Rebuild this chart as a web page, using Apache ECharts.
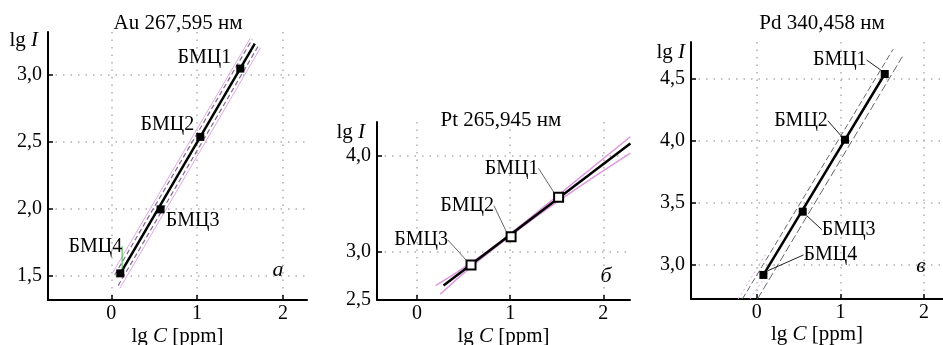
<!DOCTYPE html>
<html><head><meta charset="utf-8">
<script src="https://cdn.jsdelivr.net/npm/echarts@6/dist/echarts.min.js"></script>
<style>html,body{margin:0;padding:0;background:#fff}#c{width:943px;height:345px}</style>
</head><body><div id="c"></div>
<script>
// ---------- Panel а: Au 267,595 нм ----------
const auTitle = 'Au 267,595 нм';
const auNames = ['БМЦ4', 'БМЦ3', 'БМЦ2', 'БМЦ1'];
const auLgC = [0.105, 0.574, 1.037, 1.503];
const auLgI = [1.521, 1.997, 2.536, 3.044];
const auFitC = [0.105, 1.672];
const auFitI = [1.52, 3.23];
const auDashHiC = [0.04, 1.64], auDashHiI = [1.51, 3.26];
const auDashLoC = [0.08, 1.72], auDashLoI = [1.43, 3.22];
const auPinkHiC = [0.02, 1.62], auPinkHiI = [1.53, 3.27];
const auPinkLoC = [0.10, 1.74], auPinkLoI = [1.41, 3.20];
const auXTicks = [0, 1, 2];
const auYTicks = [1.5, 2.0, 2.5, 3.0];

// ---------- Panel б: Pt 265,945 нм ----------
const ptTitle = 'Pt 265,945 нм';
const ptNames = ['БМЦ3', 'БМЦ2', 'БМЦ1'];
const ptLgC = [0.58, 1.01, 1.52];
const ptLgI = [2.865, 3.16, 3.57];
const ptFitC = [0.285, 2.29];
const ptFitI = [2.65, 4.13];
const ptBandHiC = [0.2, 0.6, 1.0, 1.5, 2.29], ptBandHiI = [2.65, 2.90, 3.19, 3.58, 4.20];
const ptBandLoC = [0.25, 0.6, 1.0, 1.5, 2.29], ptBandLoI = [2.56, 2.86, 3.165, 3.52, 4.03];
const ptXTicks = [0, 1, 2];
const ptYTicks = [2.5, 3.0, 4.0];

// ---------- Panel в: Pd 340,458 нм ----------
const pdTitle = 'Pd 340,458 нм';
const pdNames = ['БМЦ4', 'БМЦ3', 'БМЦ2', 'БМЦ1'];
const pdLgC = [0.08, 0.55, 1.055, 1.53];
const pdLgI = [2.92, 3.43, 4.01, 4.54];
const pdFitC = [0.08, 1.53];
const pdFitI = [2.92, 4.54];
const pdDashHiC = [-0.17, 1.63], pdDashHiI = [2.727, 4.74];
const pdDashLoC = [0.01, 1.74], pdDashLoI = [2.727, 4.68];
const pdPinkHiC = [-0.22, 0.12], pdPinkHiI = [2.727, 3.10];
const pdPinkLoC = [-0.08, 0.20], pdPinkLoI = [2.727, 3.00];
const pdXTicks = [0, 1, 2];
const pdYTicks = [3.0, 3.5, 4.0, 4.5];

// ---------- layout / style (not data) ----------
const SERIF = '"Liberation Serif", "Times New Roman", serif';
const INK = '#000';
const fmtY = v => (Math.round(v * 10) / 10).toFixed(1).replace('.', ',');
const richName = {
  n: { fontFamily: SERIF, fontSize: 21, color: INK },
  i: { fontFamily: SERIF, fontSize: 21, color: INK, fontStyle: 'italic' }
};
const auLabelOff = [[-25, -27], [32, 11], [-33, -12], [-36, -11]];
const auCallout = [true, false, false, false];
const ptLabelOff = [[-50, -25], [-44, -31], [-47, -29]];
const ptCallout = [true, true, true];
const pdLabelOff = [[67, -20], [46, 18], [-44, -19], [-45, -14]];
const pdCallout = [true, true, true, true];

function xAxisCfg(gi, min, max, ticks, nameGap) {
  return {
    type: 'value', gridIndex: gi, min: min, max: max,
    name: '{n|lg }{i|C}{n| [ppm]}', nameLocation: 'middle', nameGap: nameGap, nameMoveOverlap: false,
    nameTextStyle: { rich: richName, verticalAlign: 'top' },
    axisLine: { onZero: false, lineStyle: { color: INK, width: 2 } },
    axisTick: { show: true, inside: true, length: 5, customValues: ticks, lineStyle: { color: INK, width: 1.5 } },
    axisLabel: { customValues: ticks, margin: 4, fontFamily: SERIF, fontSize: 20, color: INK, formatter: v => String(v) },
    splitLine: { show: true, lineStyle: { color: '#b0b0b0', width: 1.5, type: [1.5, 6] } }
  };
}
function yAxisCfg(gi, min, max, ticks, nameGap, padR) {
  return {
    type: 'value', gridIndex: gi, min: min, max: max,
    name: '{n|lg }{i|I}', nameLocation: 'end', nameGap: nameGap, nameMoveOverlap: false,
    nameTextStyle: { rich: richName, align: 'right', verticalAlign: 'middle', padding: [0, padR, 0, 0] },
    axisLine: { onZero: false, lineStyle: { color: INK, width: 2 } },
    axisTick: { show: true, inside: true, length: 5, customValues: ticks, lineStyle: { color: INK, width: 1.5 } },
    axisLabel: { customValues: ticks, margin: 6, fontFamily: SERIF, fontSize: 20, color: INK, formatter: fmtY },
    splitLine: { show: true, lineStyle: { color: '#b0b0b0', width: 1.5, type: [1.5, 6] } }
  };
}
function pts(xs, ys) { return xs.map((x, i) => [x, ys[i]]); }
function lineSeries(gi, xs, ys, style, z, smooth) {
  return {
    type: 'line', xAxisIndex: gi, yAxisIndex: gi, data: pts(xs, ys),
    symbol: 'none', showSymbol: false, silent: true, smooth: !!smooth,
    lineStyle: style, z: z, clip: true
  };
}
function scatterSeries(gi, xs, ys, names, offs, callouts, calloutColor, itemStyle, size) {
  return {
    type: 'scatter', xAxisIndex: gi, yAxisIndex: gi, symbol: 'rect', symbolSize: size,
    itemStyle: Object.assign({ opacity: 1 }, itemStyle), z: 10,
    data: xs.map((x, i) => ({
      name: names[i], value: [x, ys[i]],
      labelLine: { show: callouts[i], lineStyle: { color: calloutColor, width: 1, opacity: 1 } }
    })),
    label: { show: true, position: 'top', formatter: p => p.name, fontFamily: SERIF, fontSize: 20,
      color: INK, opacity: 1, textBorderWidth: 0, textShadowBlur: 0 },
    labelLine: { show: false },
    labelLayout: p => ({
      x: p.rect.x + p.rect.width / 2 + offs[p.dataIndex][0],
      y: p.rect.y + p.rect.height / 2 + offs[p.dataIndex][1],
      align: 'center', verticalAlign: 'middle', hideOverlap: false, moveOverlap: null
    })
  };
}

const chart = echarts.init(document.getElementById('c'), null, { renderer: 'canvas' });
const dashStyle = { color: '#7f6a8e', width: 1.2, type: [5, 3] };
const pinkStyle = { color: '#e2a8e2', width: 1 };
chart.setOption({
  animation: false,
  backgroundColor: '#fff',
  grid: [
    { left: 48, top: 32, width: 259, height: 268, outerBoundsMode: 'none', containLabel: false },
    { left: 377, top: 122, width: 253, height: 178, outerBoundsMode: 'none', containLabel: false },
    { left: 691, top: 42, width: 252, height: 257, outerBoundsMode: 'none', containLabel: false }
  ],
  xAxis: [
    xAxisCfg(0, -0.737, 2.28, auXTicks, 26),
    xAxisCfg(1, -0.429, 2.286, ptXTicks, 26),
    xAxisCfg(2, -0.785, 2.226, pdXTicks, 25)
  ],
  yAxis: [
    yAxisCfg(0, 1.323, 3.316, auYTicks, -8, 10),
    yAxisCfg(1, 2.5, 4.354, ptYTicks, -10, 12),
    yAxisCfg(2, 2.726, 4.798, pdYTicks, -10, 6)
  ],
  graphic: [
    { type: 'text', x: 178, y: 23, style: { text: auTitle, font: '21px ' + SERIF, fill: INK, align: 'center', verticalAlign: 'middle' } },
    { type: 'text', x: 501, y: 120, style: { text: ptTitle, font: '21px ' + SERIF, fill: INK, align: 'center', verticalAlign: 'middle' } },
    { type: 'text', x: 822, y: 23, style: { text: pdTitle, font: '21px ' + SERIF, fill: INK, align: 'center', verticalAlign: 'middle' } },
    { type: 'text', x: 278, y: 270, style: { text: 'а', font: 'italic 22px ' + SERIF, fill: INK, align: 'center', verticalAlign: 'middle' } },
    { type: 'text', x: 606, y: 276, style: { text: 'б', font: 'italic 22px ' + SERIF, fill: INK, align: 'center', verticalAlign: 'middle' } },
    { type: 'text', x: 921, y: 266, style: { text: 'в', font: 'italic 22px ' + SERIF, fill: INK, align: 'center', verticalAlign: 'middle' } }
  ],
  series: [
    lineSeries(0, auPinkHiC, auPinkHiI, pinkStyle, 2),
    lineSeries(0, auPinkLoC, auPinkLoI, pinkStyle, 2),
    lineSeries(0, auDashHiC, auDashHiI, dashStyle, 3),
    lineSeries(0, auDashLoC, auDashLoI, dashStyle, 3),
    lineSeries(0, auFitC, auFitI, { color: INK, width: 2.5 }, 4),
    scatterSeries(0, auLgC, auLgI, auNames, auLabelOff, auCallout, '#3cb043', { color: INK }, 8),

    lineSeries(1, ptBandHiC, ptBandHiI, { color: '#dd99dd', width: 1.5 }, 2, true),
    lineSeries(1, ptBandLoC, ptBandLoI, { color: '#dd99dd', width: 1.5 }, 2, true),
    lineSeries(1, ptFitC, ptFitI, { color: INK, width: 2.5 }, 4),
    scatterSeries(1, ptLgC, ptLgI, ptNames, ptLabelOff, ptCallout, '#666', { color: '#fff', borderColor: INK, borderWidth: 2 }, 9),

    lineSeries(2, pdPinkHiC, pdPinkHiI, { color: '#e0a8e0', width: 1, type: [2, 3] }, 2),
    lineSeries(2, pdPinkLoC, pdPinkLoI, { color: '#e0a8e0', width: 1, type: [2, 3] }, 2),
    lineSeries(2, pdDashHiC, pdDashHiI, { color: '#666', width: 1, type: [6, 3] }, 3),
    lineSeries(2, pdDashLoC, pdDashLoI, { color: '#666', width: 1, type: [8, 3] }, 3),
    lineSeries(2, pdFitC, pdFitI, { color: INK, width: 2.5 }, 4),
    scatterSeries(2, pdLgC, pdLgI, pdNames, pdLabelOff, pdCallout, '#222', { color: INK }, 8)
  ]
});
</script></body></html>
